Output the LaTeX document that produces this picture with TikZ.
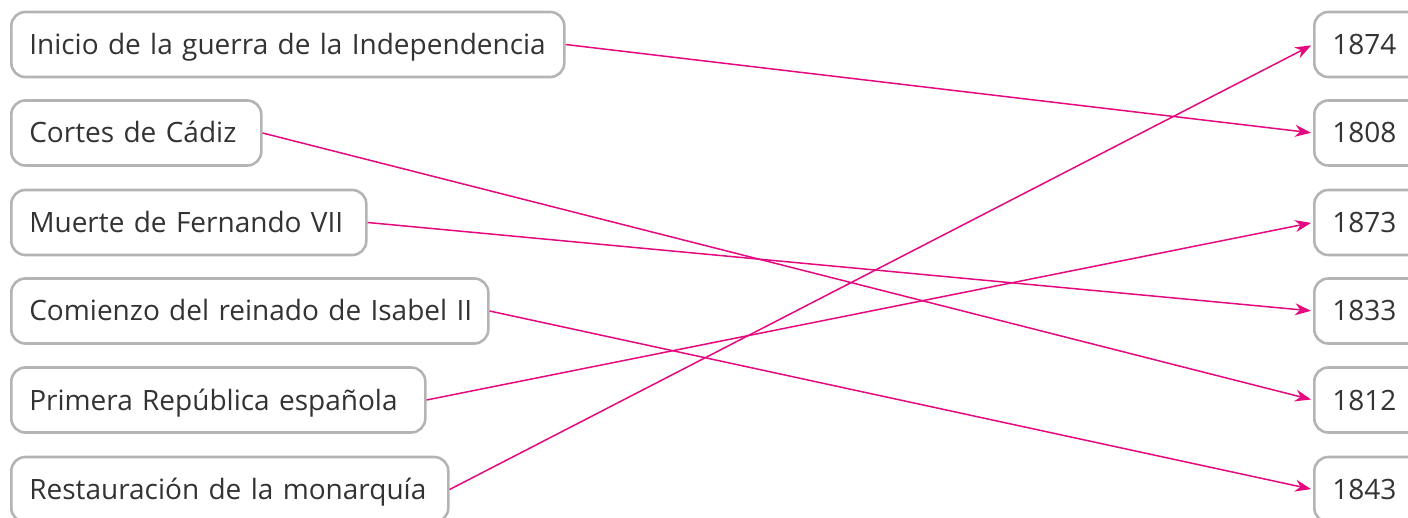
\documentclass[tikz,border=0pt]{standalone}
\usepackage{fontspec}
\setmainfont{Open Sans}
\usetikzlibrary{arrows.meta}
\definecolor{boxgray}{HTML}{B4B4B4}
\definecolor{txtgray}{HTML}{333333}
\definecolor{magen}{HTML}{E5097F}
\begin{document}
\begin{tikzpicture}[x=0.5pt,y=-0.5pt,
  evbox/.style={draw=boxgray, line width=1.3pt, rounded corners=7pt, fill=white,
    anchor=west, minimum height=32.5pt, inner xsep=9pt, inner ysep=0pt,
    text height=12pt, text depth=2pt,
    align=left, text=txtgray, font=\fontsize{14}{16}\selectfont},
  yrbox/.style={evbox, text width=36pt},
  link/.style={draw=magen, line width=0.75pt, -{Stealth[length=8pt,width=6pt]}, shorten >=1pt}]
\useasboundingbox (0,0) rectangle (1408,518);
\node[evbox, text width=258.5pt] (e1) at (10,44.5) {\mbox{Inicio de la guerra de la Independencia}};
\node[evbox, text width=107pt] (e2) at (10,133) {\mbox{Cortes de Cádiz}};
\node[evbox, text width=159.5pt] (e3) at (10,222.5) {\mbox{Muerte de Fernando VII}};
\node[evbox, text width=220.5pt] (e4) at (10,311) {\mbox{Comienzo del reinado de Isabel II}};
\node[evbox, text width=189pt] (e5) at (10,400) {\mbox{Primera República española}};
\node[evbox, text width=200.5pt] (e6) at (10,489.5) {\mbox{Restauración de la monarquía}};
\node[yrbox] (y1) at (1313,44.5) {1874};
\node[yrbox] (y2) at (1313,133) {1808};
\node[yrbox] (y3) at (1313,222.5) {1873};
\node[yrbox] (y4) at (1313,311) {1833};
\node[yrbox] (y5) at (1313,400) {1812};
\node[yrbox] (y6) at (1313,489.5) {1843};
\draw[link] (e1.east) -- (y2.west);
\draw[link] (e2.east) -- (y5.west);
\draw[link] (e3.east) -- (y4.west);
\draw[link] (e4.east) -- (y6.west);
\draw[link] (e5.east) -- (y3.west);
\draw[link] (e6.east) -- (y1.west);
\end{tikzpicture}
\end{document}
